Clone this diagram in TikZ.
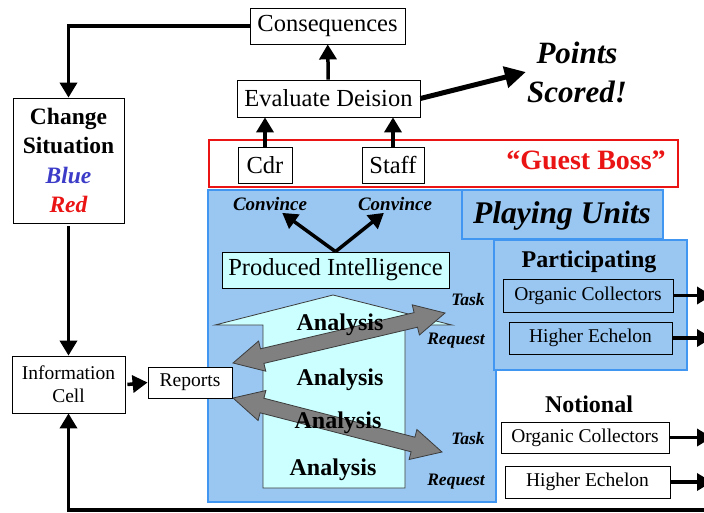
\documentclass[tikz,border=0pt]{standalone}
\usepackage{fontspec}
\setmainfont{Liberation Serif}
\usetikzlibrary{arrows.meta}

\definecolor{unitblue}{RGB}{153,199,242}
\definecolor{unitedge}{RGB}{64,150,240}
\definecolor{intcyan}{RGB}{204,255,255}
\definecolor{arrowgray}{RGB}{128,128,128}
\definecolor{arrowedge}{RGB}{60,60,60}
\definecolor{bossred}{RGB}{235,20,20}
\definecolor{sitblue}{RGB}{60,60,200}

\begin{document}
\begin{tikzpicture}[x=1pt,y=1pt,yscale=-1,xscale=1,
  box/.style={draw, fill=white, line width=0.8, inner sep=0, font=\fontsize{24.5}{26}\selectfont},
  sidebox/.style={box, align=center, font=\fontsize{19.5}{23}\selectfont},
  flow/.style={line width=3.5, -{Triangle[length=15,width=17]}},
  unitbox/.style={draw=unitedge, fill=unitblue, line width=2.5},
  boldlabel/.style={inner sep=1, font=\bfseries\fontsize{24}{26}\selectfont},
  verb/.style={inner sep=1, font=\bfseries\itshape\fontsize{17.5}{20}\selectfont}]
\useasboundingbox (0,0) rectangle (704,512);
\fill[white] (0,0) rectangle (704,512);

%Shape: playing units area
\draw[unitbox] (208,190) rectangle (496,502);
\draw[unitbox] (462,190) rectangle (663,239);
\draw[unitbox] (494,240) rectangle (687,370);
%Shape: guest boss frame
\draw[bossred, line width=2] (209,140) rectangle (678,187);

%Shape: analysis arrow
\draw[fill=intcyan, draw=arrowedge, line width=0.8] (333,295) -- (452,325) -- (405,325) -- (405,488) -- (263,488) -- (263,325) -- (215,325) -- cycle;
%Shape: task / request arrows
\draw[fill=arrowgray, draw=arrowedge, line width=0.8] (233,363) -- (265.8,371.2) -- (263.9,363.4) -- (417.5,327.2) -- (419.4,335.0) -- (445,313) -- (412.2,304.8) -- (414.1,312.6) -- (260.5,348.8) -- (258.6,341.0) -- cycle;
\draw[fill=arrowgray, draw=arrowedge, line width=0.8] (233,398) -- (258.1,420.5) -- (260.1,412.8) -- (411.1,451.8) -- (409.1,459.5) -- (442,452) -- (416.9,429.5) -- (414.9,437.2) -- (263.9,398.2) -- (265.9,390.5) -- cycle;

% Text Node
\node[boldlabel] (an1) at (340,325) {Analysis};
\node[boldlabel] (an2) at (340,380) {Analysis};
\node[boldlabel] (an3) at (338,423) {Analysis};
\node[boldlabel] (an4) at (333,470) {Analysis};
\node[verb] (task1) at (468,300) {Task};
\node[verb] (req1) at (456,341) {Request};
\node[verb] (task2) at (468,439) {Task};
\node[verb] (req2) at (456,482) {Request};

% Boxes
\node[box, minimum width=155, minimum height=36] (cons) at (327.5,26) {Consequences};
\node[box, minimum width=183, minimum height=37] (eval) at (328.5,98.5) {Evaluate Deision};
\node[box, minimum width=54, minimum height=36] (cdr) at (265,165) {Cdr};
\node[box, minimum width=62, minimum height=36] (staff) at (393,165) {Staff};
\node[box, fill=intcyan, minimum width=227, minimum height=36] (prodint) at (335.5,270) {Produced Intelligence};
\node[box, align=center, minimum width=111, minimum height=125, font=\bfseries\fontsize{23.5}{29.5}\selectfont] (change) at (68.5,160.5)
  {Change\\Situation\\\textcolor{sitblue}{\itshape Blue}\\\textcolor{bossred}{\itshape Red}};
\node[sidebox, minimum width=113, minimum height=57] (info) at (68.5,384.5) {Information\\Cell};
\node[sidebox, minimum width=84, minimum height=31] (reports) at (190,382.5) {Reports};
\node[sidebox, fill=unitblue, minimum width=170, minimum height=33] (orgpart) at (588,295.5) {Organic Collectors};
\node[sidebox, fill=unitblue, minimum width=163, minimum height=32] (hipart) at (590.5,338) {Higher Echelon};
\node[sidebox, minimum width=168, minimum height=31] (orgnot) at (585,437.5) {Organic Collectors};
\node[sidebox, minimum width=165, minimum height=32] (hinot) at (587.5,482) {Higher Echelon};

% Text Node
\node[inner sep=1, align=center, font=\bfseries\itshape\fontsize{31}{39}\selectfont] (points) at (577,72) {Points\\Scored!};
\node[inner sep=1, text=bossred, font=\bfseries\fontsize{28}{30}\selectfont] (boss) at (586,160) {“Guest Boss”};
\node[inner sep=1, font=\bfseries\itshape\fontsize{31.5}{33}\selectfont] (playing) at (562,216) {Playing Units};
\node[boldlabel] (partic) at (589,262) {Participating};
\node[boldlabel] (notional) at (589,404) {Notional};
\node[inner sep=2, font=\bfseries\itshape\fontsize{19}{21}\selectfont] (conv1) at (270,204) {Convince};
\node[inner sep=2, font=\bfseries\itshape\fontsize{19}{21}\selectfont] (conv2) at (395,204) {Convince};

% Connectors
\coordinate (edgeP1) at (712,295.5);
\coordinate (edgeP2) at (712,338);
\coordinate (edgeN1) at (712,437.5);
\coordinate (edgeN2) at (712,482);
\coordinate (edgeB) at (712,510);
\draw[flow] (eval) -- (cons);
\draw[flow] (cdr.north) -- (cdr.north |- eval.south);
\draw[flow] (staff.north) -- (staff.north |- eval.south);
\draw[line width=5, -{Triangle[length=21,width=21]}] (eval.east) -- (points.west);
\draw[flow] (cons.west) -| (change.north);
\draw[flow] ([yshift=3]change.south) -- (info.north);
\draw[flow] ([xshift=2]info.east) -- (reports.west);
\draw[flow] (edgeB) -| (info.south);
\draw[flow] (prodint.north) -- (conv1);
\draw[flow] (prodint.north) -- (conv2);
\draw[flow] (orgpart.east) -- (edgeP1);
\draw[flow] (hipart.east) -- (edgeP2);
\draw[flow] (orgnot.east) -- (edgeN1);
\draw[flow] (hinot.east) -- (edgeN2);

\end{tikzpicture}
\end{document}
